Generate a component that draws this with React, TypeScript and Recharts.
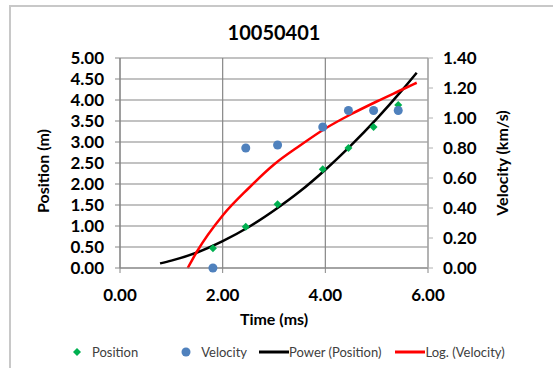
import {
  ComposedChart,
  Scatter,
  Line,
  XAxis,
  YAxis,
  CartesianGrid,
  Label,
} from 'recharts'

// measured points
const times = [1.81, 2.45, 3.07, 3.95, 4.45, 4.94, 5.42]
const positions = [0.47, 0.98, 1.52, 2.35, 2.86, 3.36, 3.88]
const velocities = [0, 0.8, 0.82, 0.94, 1.05, 1.05, 1.05]

// trendlines
const powerTimes = [0.78, 1, 1.5, 2, 2.5, 3, 3.5, 4, 4.5, 5, 5.5, 5.78]
const powerPos = [0.11, 0.175, 0.37, 0.64, 0.97, 1.37, 1.82, 2.34, 2.92, 3.55, 4.24, 4.65]
const logTimes = [1.32, 1.5, 2, 2.5, 3, 3.5, 4, 4.5, 5, 5.5, 5.78]
const logVel = [0, 0.11, 0.35, 0.53, 0.69, 0.815, 0.93, 1.025, 1.11, 1.19, 1.235]

const xTicks = [0, 2, 4, 6]
const posTicks = [0, 0.5, 1, 1.5, 2, 2.5, 3, 3.5, 4, 4.5, 5]
const velTicks = [0, 0.2, 0.4, 0.6, 0.8, 1, 1.2, 1.4]

const FONT = 'Lato, "Liberation Sans", sans-serif'
const AXIS = '#868686'

const posData = times.map((x, i) => ({ x, y: positions[i] }))
const velData = times.map((x, i) => ({ x, y: velocities[i] }))
const powerData = powerTimes.map((x, i) => ({ x, y: powerPos[i] }))
const logData = logTimes.map((x, i) => ({ x, y: logVel[i] }))

const tickStyle = { fontSize: 17, fontWeight: 700, fill: '#000', fontFamily: FONT }

function Diamond(props: any) {
  const { cx, cy } = props
  const r = 4
  return (
    <polygon
      points={`${cx},${cy - r} ${cx + r},${cy} ${cx},${cy + r} ${cx - r},${cy}`}
      fill="#00b050"
    />
  )
}

function Dot(props: any) {
  return <circle cx={props.cx} cy={props.cy} r={4.5} fill="#4f81bd" />
}

function LegendItem({ kind, color, text }: { kind: string; color: string; text: string }) {
  return (
    <div style={{ display: 'flex', alignItems: 'center' }}>
      <svg width={30} height={12}>
        {kind === 'diamond' && <polygon points="15,2 19,6 15,10 11,6" fill={color} />}
        {kind === 'circle' && <circle cx={15} cy={6} r={4.5} fill={color} />}
        {kind === 'line' && <line x1={0} y1={6} x2={30} y2={6} stroke={color} strokeWidth={3} />}
      </svg>
      <span>{text}</span>
    </div>
  )
}

export default function App() {
  return (
    <div
      style={{
        position: 'fixed',
        left: 0,
        top: 0,
        width: 553,
        height: 368,
        overflow: 'hidden',
        background: '#fff',
        fontFamily: FONT,
      }}
    >
      <div
        style={{
          position: 'absolute',
          left: 9,
          top: 5,
          width: 600,
          height: 420,
          border: '2px solid #c8c8c8',
        }}
      />
      <div
        style={{
          position: 'absolute',
          left: 120,
          width: 308,
          top: 20,
          textAlign: 'center',
          fontSize: 20,
          fontWeight: 700,
          color: '#000',
        }}
      >
        10050401
      </div>
      <ComposedChart
        width={553}
        height={368}
        margin={{ top: 58, right: 0, bottom: 0, left: 0 }}
        style={{ position: 'absolute', left: 0, top: 0 }}
      >
        <CartesianGrid yAxisId="pos" stroke={AXIS} strokeWidth={1.2} />
        <XAxis
          type="number"
          dataKey="x"
          domain={[0, 6]}
          ticks={xTicks}
          interval={0}
          tickFormatter={(v: number) => v.toFixed(2)}
          tick={tickStyle}
          stroke={AXIS}
          tickSize={5}
          tickMargin={16}
          height={100}
        >
          <Label
            value="Time (ms)"
            position="insideTop"
            offset={46}
            style={{ fontSize: 16, fontWeight: 700, fill: '#000', fontFamily: FONT }}
          />
        </XAxis>
        <YAxis
          yAxisId="pos"
          type="number"
          domain={[0, 5]}
          ticks={posTicks}
          interval={0}
          tickFormatter={(v: number) => v.toFixed(2)}
          tick={tickStyle}
          stroke={AXIS}
          tickSize={5}
          tickMargin={11}
          width={120}
        >
          <Label
            value="Position (m)"
            angle={-90}
            position="center"
            dx={-17}
            dy={8}
            style={{ fontSize: 16, fontWeight: 700, fill: '#000', fontFamily: FONT, textAnchor: 'middle' }}
          />
        </YAxis>
        <YAxis
          yAxisId="vel"
          orientation="right"
          type="number"
          domain={[0, 1.4]}
          ticks={velTicks}
          interval={0}
          tickFormatter={(v: number) => v.toFixed(2)}
          tick={tickStyle}
          stroke="#b0b0b0"
          tickSize={5}
          tickMargin={10}
          width={125}
        >
          <Label
            value="Velocity (km/s)"
            angle={-90}
            position="center"
            dx={12}
            style={{ fontSize: 16, fontWeight: 700, fill: '#000', fontFamily: FONT, textAnchor: 'middle' }}
          />
        </YAxis>
        <Scatter
          yAxisId="pos"
          data={posData}
          dataKey="y"
          shape={Diamond}
          isAnimationActive={false}
        />
        <Scatter
          yAxisId="vel"
          data={velData}
          dataKey="y"
          shape={Dot}
          isAnimationActive={false}
        />
        <Line
          yAxisId="pos"
          data={powerData}
          dataKey="y"
          type="monotone"
          stroke="#000"
          strokeWidth={2.5}
          dot={false}
          isAnimationActive={false}
        />
        <Line
          yAxisId="vel"
          data={logData}
          dataKey="y"
          type="monotone"
          stroke="#ff0000"
          strokeWidth={2.5}
          dot={false}
          isAnimationActive={false}
        />
      </ComposedChart>
      <div
        style={{
          position: 'absolute',
          top: 344,
          left: 62,
          display: 'flex',
          fontSize: 13,
          color: '#404040',
          whiteSpace: 'nowrap',
        }}
      >
        <LegendItem kind="diamond" color="#00b050" text="Position" />
        <div style={{ width: 33 }} />
        <LegendItem kind="circle" color="#4f81bd" text="Velocity" />
        <div style={{ width: 12 }} />
        <LegendItem kind="line" color="#000" text="Power (Position)" />
        <div style={{ width: 14 }} />
        <LegendItem kind="line" color="#ff0000" text="Log. (Velocity)" />
      </div>
    </div>
  )
}
